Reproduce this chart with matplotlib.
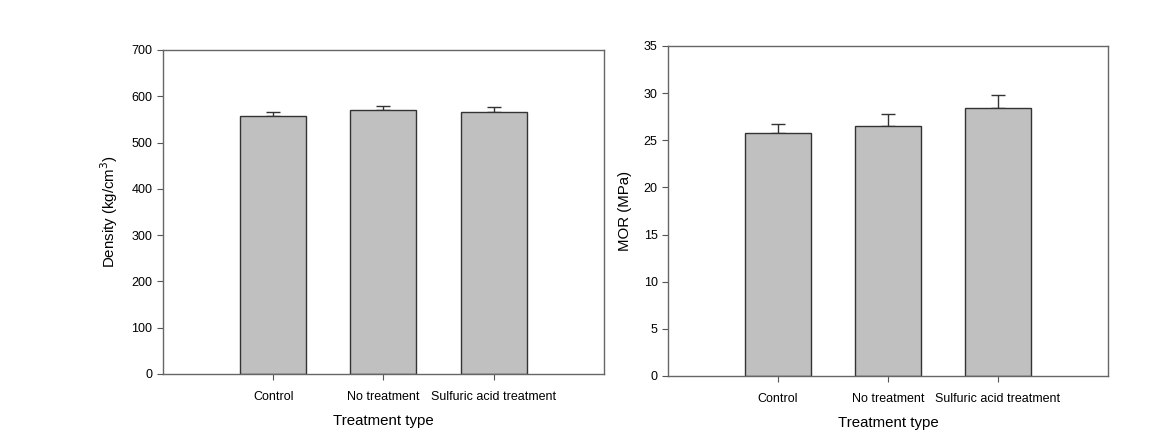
import numpy as np
import matplotlib.pyplot as plt

plt.rcParams['font.family'] = ['Liberation Sans', 'DejaVu Sans']

categories = ['Control', 'No treatment', 'Sulfuric acid treatment']
density = [558, 571, 566]
density_err = [8, 7, 10]
mor = [25.8, 26.5, 28.4]
mor_err = [0.9, 1.3, 1.4]

fig = plt.figure(figsize=(11.74, 4.44), dpi=100)
ax1 = fig.add_axes([0.1388, 0.1577, 0.3756, 0.7297])
ax2 = fig.add_axes([0.569, 0.1532, 0.3748, 0.7432])

def panel(ax, vals, errs, ymax, step, ylabel):
    x = np.arange(1, len(vals) + 1)
    ax.bar(x, vals, width=0.6, color='#c0c0c0', edgecolor='#333333', linewidth=1, zorder=2)
    ax.errorbar(x, vals, yerr=[np.zeros(len(errs)), errs], fmt='none',
                ecolor='#333333', elinewidth=1, capsize=5, capthick=1, zorder=1)
    ax.set_xlim(0, 4)
    ax.set_ylim(0, ymax)
    ax.set_xticks(x)
    ax.set_xticklabels(categories, fontsize=9)
    ax.set_yticks(np.arange(0, ymax + step / 2, step))
    ax.tick_params(axis='y', labelsize=9, direction='out', length=4, color='#555555')
    ax.tick_params(axis='x', direction='out', length=4, color='#555555', pad=8)
    for s in ax.spines.values():
        s.set_color('#666666')
        s.set_linewidth(1)
    ax.set_xlabel('Treatment type', fontsize=10.8, labelpad=8)
    ax.set_ylabel(ylabel, fontsize=10.8, labelpad=8)

panel(ax1, density, density_err, 700, 100, 'Density (kg/cm$^3$)')
panel(ax2, mor, mor_err, 35, 5, 'MOR (MPa)')

fig.savefig('out.png', dpi=100)
